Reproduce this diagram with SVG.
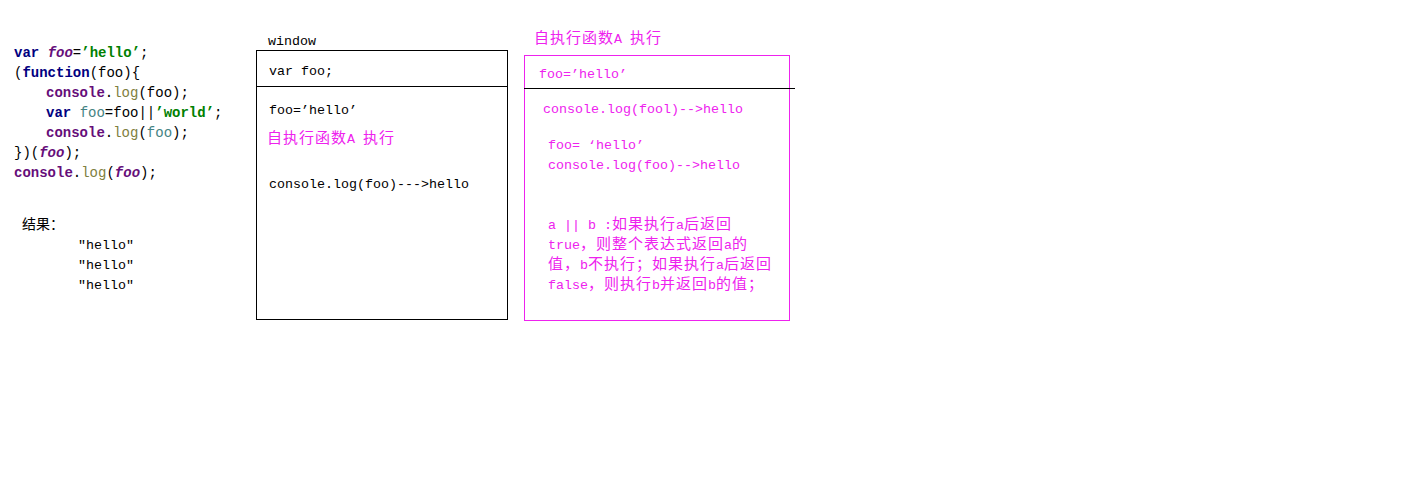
<svg xmlns="http://www.w3.org/2000/svg" width="1403" height="488" viewBox="0 0 1403 488" xml:space="preserve">
<style>
text{font-family:"Liberation Mono","Noto Sans CJK SC",monospace;white-space:pre}
.code{font-size:14px;fill:#000}
.kw{fill:#000080;font-weight:bold}
.gv{fill:#660e7a;font-weight:bold;font-style:italic}
.str{fill:#008000;font-weight:bold}
.pc{fill:#660e7a;font-weight:bold}
.lg{fill:#808040}
.tl{fill:#458383}
.bx{font-size:13.33px;fill:#000}
.mg{fill:#ee22ee}
.cn{font-family:"Noto Sans CJK SC",sans-serif;font-size:15px;letter-spacing:1px}
.box{fill:none;stroke:#000;stroke-width:1}
.mbox{fill:none;stroke:#ee22ee;stroke-width:1}
</style>
<rect width="1403" height="488" fill="#fff"/>
<g id="code" class="code">
<text x="14" y="57" class="code"><tspan class="kw">var</tspan> <tspan class="gv">foo</tspan>=<tspan class="str">’hello’</tspan>;</text>
<text x="14" y="77" class="code">(<tspan class="kw">function</tspan>(foo){</text>
<text x="46" y="97" class="code"><tspan class="pc">console</tspan>.<tspan class="lg">log</tspan>(foo);</text>
<text x="46" y="117" class="code"><tspan class="kw">var</tspan> <tspan class="tl">foo</tspan>=foo||<tspan class="str">’world’</tspan>;</text>
<text x="46" y="137" class="code"><tspan class="pc">console</tspan>.<tspan class="lg">log</tspan>(<tspan class="tl">foo</tspan>);</text>
<text x="14" y="157" class="code">})(<tspan class="gv">foo</tspan>);</text>
<text x="14" y="177" class="code"><tspan class="pc">console</tspan>.<tspan class="lg">log</tspan>(<tspan class="gv">foo</tspan>);</text>
</g>
<g id="result">
<text x="22" y="229" class="bx"><tspan class="cn" style="font-size:14px;letter-spacing:0">结果：</tspan></text>
<text x="78" y="249" class="bx">″hello″</text>
<text x="78" y="269" class="bx">″hello″</text>
<text x="78" y="289" class="bx">″hello″</text>
</g>
<g id="window">
<text x="268" y="45" class="bx">window</text>
<rect x="256.5" y="50.5" width="251" height="269" class="box"/>
<line x1="256" y1="86.5" x2="508" y2="86.5" class="box"/>
<text x="269" y="75" class="bx">var foo;</text>
<text x="269" y="114" class="bx">foo=’hello’</text>
<text x="267" y="143" class="bx mg"><tspan class="cn">自执行函数</tspan>A <tspan class="cn">执行</tspan></text>
<text x="269" y="188" class="bx">console.log(foo)---&gt;hello</text>
</g>
<g id="selfExec">
<text x="534" y="43" class="bx mg"><tspan class="cn">自执行函数</tspan>A <tspan class="cn">执行</tspan></text>
<rect x="524.5" y="55.5" width="265" height="265" class="mbox"/>
<line x1="524" y1="88.5" x2="795" y2="88.5" class="box"/>
<text x="539" y="78" class="bx mg">foo=’hello’</text>
<text x="543" y="113" class="bx mg">console.log(fool)--&gt;hello</text>
<text x="548" y="149" class="bx mg">foo= ‘hello’</text>
<text x="548" y="169" class="bx mg">console.log(foo)--&gt;hello</text>
<text x="548" y="229" class="bx mg">a || b :<tspan class="cn">如果执行</tspan>a<tspan class="cn">后返回</tspan></text>
<text x="548" y="249" class="bx mg">true<tspan class="cn">，则整个表达式返回</tspan>a<tspan class="cn">的</tspan></text>
<text x="548" y="269" class="bx mg"><tspan class="cn">值，</tspan>b<tspan class="cn">不执行；如果执行</tspan>a<tspan class="cn">后返回</tspan></text>
<text x="548" y="289" class="bx mg">false<tspan class="cn">，则执行</tspan>b<tspan class="cn">并返回</tspan>b<tspan class="cn">的值；</tspan></text>
</g>
<g id="connectors"/>
</svg>
